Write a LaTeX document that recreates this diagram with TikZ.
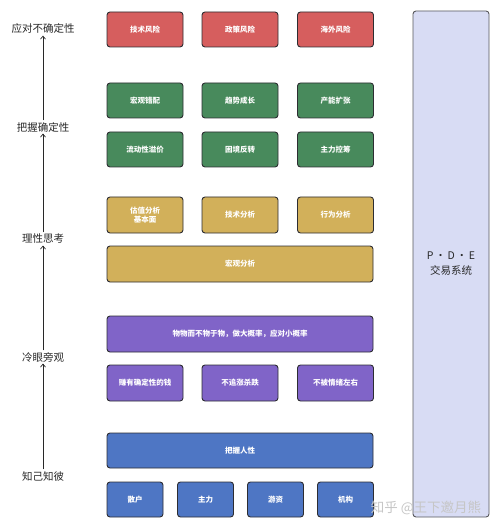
\documentclass[tikz,border=0pt]{standalone}
\usepackage{fontspec}
\setmainfont{Noto Sans CJK SC}
\usetikzlibrary{arrows.meta}
\definecolor{cred}{RGB}{214,94,94}
\definecolor{cgreen}{RGB}{72,138,92}
\definecolor{cyellow}{RGB}{210,176,90}
\definecolor{cpurple}{RGB}{128,100,200}
\definecolor{cblue}{RGB}{78,118,196}
\definecolor{clav}{RGB}{216,220,244}
\definecolor{cborder}{RGB}{45,45,50}
\definecolor{clabel}{RGB}{40,40,40}
\tikzset{
  x=1pt, y=-1pt,
  cbox/.style={draw=cborder, line width=0.9pt, rounded corners=3pt, text=white,
    font=\fontsize{7.5}{9}\selectfont\bfseries, align=center, inner sep=0pt,
    minimum height=35pt, anchor=center},
  narrow/.style={cbox, minimum width=76pt},
  wide/.style={cbox, minimum width=266pt},
  tiny/.style={cbox, minimum width=56pt},
  lab/.style={text=clabel, font=\fontsize{10.5}{12}\selectfont, inner sep=1.5pt},
  up/.style={-{Straight Barb[length=3pt,width=5pt]}, line width=0.7pt, draw=clabel}
}
\begin{document}
\begin{tikzpicture}
\useasboundingbox (0,0) rectangle (500,529);
% right box
\node[draw=cborder!80, line width=0.9pt, fill=clav, rounded corners=3pt, minimum width=76pt, minimum height=506pt, inner sep=0pt,
  font=\fontsize{10.5}{16}\selectfont, text=clabel, align=center] (pde) at (451,264) {P\,·\,D\,·\,E\\[-1pt]交易系统};
% red row
\node[narrow, fill=cred] (r1) at (145,29.5) {技术风险};
\node[narrow, fill=cred] (r2) at (240,29.5) {政策风险};
\node[narrow, fill=cred] (r3) at (335.5,29.5) {海外风险};
% green rows
\node[narrow, fill=cgreen] (g1) at (145,100.5) {宏观错配};
\node[narrow, fill=cgreen] (g2) at (240,100.5) {趋势成长};
\node[narrow, fill=cgreen] (g3) at (335.5,100.5) {产能扩张};
\node[narrow, fill=cgreen] (g4) at (145,149.5) {流动性溢价};
\node[narrow, fill=cgreen] (g5) at (240,149.5) {困境反转};
\node[narrow, fill=cgreen] (g6) at (335.5,149.5) {主力控筹};
% yellow
\node[narrow, fill=cyellow, minimum height=36pt] (y1) at (145,215) {估值分析\\基本面};
\node[narrow, fill=cyellow, minimum height=36pt] (y2) at (240,215) {技术分析};
\node[narrow, fill=cyellow, minimum height=36pt] (y3) at (335.5,215) {行为分析};
\node[wide, fill=cyellow, minimum height=36pt] (y4) at (240,264) {宏观分析};
% purple
\node[wide, fill=cpurple, minimum height=36pt] (p1) at (240,334) {物物而不物于物，做大概率，应对小概率};
\node[narrow, fill=cpurple, minimum height=36pt] (p2) at (145,383) {赚有确定性的钱};
\node[narrow, fill=cpurple, minimum height=36pt] (p3) at (240,383) {不追涨杀跌};
\node[narrow, fill=cpurple, minimum height=36pt] (p4) at (335.5,383) {不被情绪左右};
% blue
\node[wide, fill=cblue] (b1) at (240,450.5) {把握人性};
\node[tiny, fill=cblue] (b2) at (135,499.5) {散户};
\node[tiny, fill=cblue] (b3) at (205.5,499.5) {主力};
\node[tiny, fill=cblue] (b4) at (275.5,499.5) {游资};
\node[tiny, fill=cblue] (b5) at (345.5,499.5) {机构};
% left labels
\node[lab] (l1) at (43,29) {应对不确定性};
\node[lab] (l2) at (43,127) {把握确定性};
\node[lab] (l3) at (43,239) {理性思考};
\node[lab] (l4) at (43,357) {冷眼旁观};
\node[lab] (l5) at (43,476) {知己知彼};
\draw[up] (l2.north) -- (l1.south);
\draw[up] (l3.north) -- (l2.south);
\draw[up] (l4.north) -- (l3.south);
\draw[up] (l5.north) -- (l4.south);
% watermark
\node[text=gray!45, font=\fontsize{13.5}{14}\selectfont, inner sep=0pt] (wm) at (426,508) {知乎 @王下邀月熊};
\end{tikzpicture}
\end{document}
